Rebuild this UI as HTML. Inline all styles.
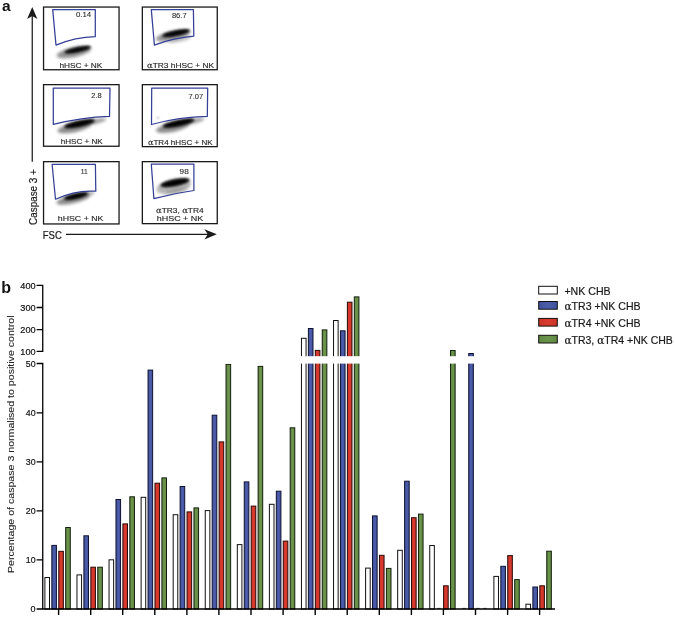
<!DOCTYPE html>
<html lang="en"><head><meta charset="utf-8"><title>Figure</title>
<style>
html,body{margin:0;padding:0;background:#fff;}
body{width:675px;height:617px;overflow:hidden;}
svg{display:block;}
text{font-family:"Liberation Sans",Arial,Helvetica,sans-serif;}
.al{font-family:"DejaVu Serif","Liberation Serif",serif;}
</style></head><body>
<svg width="675" height="617" viewBox="0 0 675 617">
<defs>
<filter id="b1" x="-50%" y="-200%" width="200%" height="500%"><feGaussianBlur stdDeviation="0.9"/></filter>
<filter id="b2" x="-50%" y="-200%" width="200%" height="500%"><feGaussianBlur stdDeviation="1.4"/></filter>
<linearGradient id="gb" x1="0" x2="1" y1="0" y2="0"><stop offset="0" stop-color="#41509e"/><stop offset="0.5" stop-color="#4c5da9"/><stop offset="1" stop-color="#41509e"/></linearGradient>
<linearGradient id="gr" x1="0" x2="1" y1="0" y2="0"><stop offset="0" stop-color="#c93429"/><stop offset="0.5" stop-color="#db3a2e"/><stop offset="1" stop-color="#c93429"/></linearGradient>
<linearGradient id="gg" x1="0" x2="1" y1="0" y2="0"><stop offset="0" stop-color="#608842"/><stop offset="0.5" stop-color="#6c954b"/><stop offset="1" stop-color="#608842"/></linearGradient>
</defs>
<rect width="675" height="617" fill="#fff"/>
<g id="panel-a">
<text x="2" y="11" font-size="15.5" font-weight="bold" fill="#111">a</text>
<line x1="32.25" y1="15" x2="32.25" y2="161.7" stroke="#1a1a1a" stroke-width="1.25"/>
<polygon points="32.25,7 37.4,19 32.25,16 27.1,19" fill="#1a1a1a"/>
<line x1="66" y1="234.3" x2="208.5" y2="234.3" stroke="#1a1a1a" stroke-width="1.2"/>
<polygon points="216.8,234.3 204.4,229.2 207.8,234.3 204.4,239.4" fill="#1a1a1a"/>
<text transform="translate(36.6,224.9) rotate(-90)" font-size="10" fill="#1a1a1a" stroke="#1a1a1a" stroke-width="0.2" textLength="55.8" lengthAdjust="spacingAndGlyphs">Caspase 3 +</text>
<text x="42.7" y="238.8" font-size="10.8" fill="#1a1a1a" stroke="#1a1a1a" stroke-width="0.2" textLength="19.1" lengthAdjust="spacingAndGlyphs">FSC</text>
<rect x="43.55" y="7.05" width="75.50" height="62.70" fill="#fff" stroke="#1a1a1a" stroke-width="1.3"/>
<g transform="translate(77.6,49.7) rotate(-12)"><ellipse cx="-4.2" cy="1.7" rx="17.5" ry="5" fill="#858585" opacity="0.9" filter="url(#b2)"/><ellipse cx="0" cy="0" rx="13.9" ry="2.7" fill="#2a2a2a" opacity="0.8" filter="url(#b1)"/><ellipse cx="0" cy="0" rx="12.3" ry="1.8" fill="#000" filter="url(#b1)"/></g>
<path d="M52.7,9.6 L95.3,9.6 L95.3,36.7 Q75.65,37.15 56,45.1 Z" fill="none" stroke="#343f96" stroke-width="1.25" stroke-linejoin="round"/>
<text x="75.89999999999999" y="17.4" font-size="6.8" fill="#333" stroke="#333" stroke-width="0.12" textLength="15.2" lengthAdjust="spacingAndGlyphs">0.14</text>
<text x="59.400000000000006" y="68" font-size="7.8" fill="#2a2a2a" stroke="#2a2a2a" stroke-width="0.15" textLength="42.9" lengthAdjust="spacingAndGlyphs">hHSC + NK</text>
<rect x="142.35" y="7.05" width="74.90" height="62.70" fill="#fff" stroke="#1a1a1a" stroke-width="1.3"/>
<g transform="translate(176.1,33.2) rotate(-11.5)"><ellipse cx="-3.5" cy="1.8" rx="17.5" ry="4.8" fill="#858585" opacity="0.9" filter="url(#b2)"/><ellipse cx="2" cy="7" rx="12" ry="2.0" fill="#999" opacity="0.6" filter="url(#b2)"/><ellipse cx="0" cy="0" rx="14.6" ry="2.9" fill="#2a2a2a" opacity="0.8" filter="url(#b1)"/><ellipse cx="0" cy="0" rx="13.0" ry="2.0" fill="#000" filter="url(#b1)"/></g>
<path d="M151.3,9.6 L193.4,9.6 L193.8,36.2 Q174.10,37.76 154.4,45.1 Z" fill="none" stroke="#343f96" stroke-width="1.25" stroke-linejoin="round"/>
<text x="171.9" y="17.7" font-size="6.8" fill="#333" stroke="#333" stroke-width="0.12" textLength="14.8" lengthAdjust="spacingAndGlyphs">86.7</text>
<text x="147.0" y="68" font-size="7.8" fill="#2a2a2a" stroke="#2a2a2a" stroke-width="0.15" textLength="67.2" lengthAdjust="spacingAndGlyphs"><tspan class="al">α</tspan>TR3 hHSC + NK</text>
<rect x="43.55" y="84.65" width="75.50" height="61.60" fill="#fff" stroke="#1a1a1a" stroke-width="1.3"/>
<g transform="translate(79.5,123.7) rotate(-12)"><ellipse cx="-6" cy="2.8" rx="17" ry="4.6" fill="#808080" opacity="0.9" filter="url(#b2)"/><ellipse cx="11" cy="1.2" rx="16" ry="2.6" fill="#858585" opacity="0.8" filter="url(#b2)"/><ellipse cx="0" cy="0" rx="16.1" ry="3.3" fill="#2a2a2a" opacity="0.8" filter="url(#b1)"/><ellipse cx="0" cy="0" rx="14.5" ry="2.4" fill="#000" filter="url(#b1)"/></g>
<path d="M53.3,88 L110,88 L109.5,116.4 Q81.40,117.37 53.3,124.4 Z" fill="#fff" fill-opacity="0.85" stroke="none"/>
<path d="M53.3,88 L110,88 L109.5,116.4 Q81.40,117.37 53.3,124.4 Z" fill="none" stroke="#343f96" stroke-width="1.25" stroke-linejoin="round"/>
<text x="91.3" y="98.4" font-size="6.8" fill="#333" stroke="#333" stroke-width="0.12" textLength="10.4" lengthAdjust="spacingAndGlyphs">2.8</text>
<text x="60.7" y="144.4" font-size="7.8" fill="#2a2a2a" stroke="#2a2a2a" stroke-width="0.15" textLength="42.0" lengthAdjust="spacingAndGlyphs">hHSC + NK</text>
<rect x="142.35" y="84.65" width="74.90" height="62.00" fill="#fff" stroke="#1a1a1a" stroke-width="1.3"/>
<g transform="translate(178.5,123.2) rotate(-12)"><ellipse cx="-6.5" cy="2.8" rx="17" ry="4.6" fill="#808080" opacity="0.9" filter="url(#b2)"/><ellipse cx="11" cy="1.2" rx="15" ry="2.6" fill="#858585" opacity="0.8" filter="url(#b2)"/><ellipse cx="0" cy="0" rx="16.6" ry="3.3" fill="#2a2a2a" opacity="0.8" filter="url(#b1)"/><ellipse cx="0" cy="0" rx="15.0" ry="2.4" fill="#000" filter="url(#b1)"/></g>
<path d="M151.7,88 L207.7,88 L207.3,116.4 Q179.40,116.80 151.5,124.5 Z" fill="#fff" fill-opacity="0.85" stroke="none"/>
<path d="M151.7,88 L207.7,88 L207.3,116.4 Q179.40,116.80 151.5,124.5 Z" fill="none" stroke="#343f96" stroke-width="1.25" stroke-linejoin="round"/>
<text x="188.6" y="98.8" font-size="6.8" fill="#333" stroke="#333" stroke-width="0.12" textLength="14.5" lengthAdjust="spacingAndGlyphs">7.07</text>
<text x="148.0" y="144.8" font-size="7.8" fill="#2a2a2a" stroke="#2a2a2a" stroke-width="0.15" textLength="64.6" lengthAdjust="spacingAndGlyphs"><tspan class="al">α</tspan>TR4 hHSC + NK</text>
<rect x="43.55" y="161.65" width="75.50" height="62.30" fill="#fff" stroke="#1a1a1a" stroke-width="1.3"/>
<g transform="translate(76,196.1) rotate(-13)"><ellipse cx="-3.5" cy="2.2" rx="17" ry="4.3" fill="#808080" opacity="0.9" filter="url(#b2)"/><ellipse cx="8" cy="0.8" rx="11" ry="2.4" fill="#858585" opacity="0.7" filter="url(#b2)"/><ellipse cx="0" cy="0" rx="12.9" ry="2.9" fill="#2a2a2a" opacity="0.8" filter="url(#b1)"/><ellipse cx="0" cy="0" rx="11.3" ry="2.0" fill="#000" filter="url(#b1)"/></g>
<path d="M52.1,164.3 L95.4,164.3 L95.8,191.2 Q75.65,189.82 55.5,199.2 Z" fill="#fff" fill-opacity="0.75" stroke="none"/>
<path d="M52.1,164.3 L95.4,164.3 L95.8,191.2 Q75.65,189.82 55.5,199.2 Z" fill="none" stroke="#343f96" stroke-width="1.25" stroke-linejoin="round"/>
<text x="80.69999999999999" y="173.9" font-size="6.8" fill="#333" stroke="#333" stroke-width="0.12" textLength="7.0" lengthAdjust="spacingAndGlyphs">11</text>
<text x="57.800000000000004" y="221.1" font-size="7.8" fill="#2a2a2a" stroke="#2a2a2a" stroke-width="0.15" textLength="45.6" lengthAdjust="spacingAndGlyphs">hHSC + NK</text>
<rect x="142.35" y="161.65" width="74.90" height="62.00" fill="#fff" stroke="#1a1a1a" stroke-width="1.3"/>
<g transform="translate(175,182.7) rotate(-11.3)"><ellipse cx="-2" cy="3.5" rx="17.5" ry="7.2" fill="#999" opacity="0.75" filter="url(#b2)"/><ellipse cx="0" cy="8" rx="12" ry="1.5" fill="#777" opacity="0.5" filter="url(#b2)"/><ellipse cx="0" cy="0" rx="15.1" ry="3.6" fill="#2a2a2a" opacity="0.8" filter="url(#b1)"/><ellipse cx="0" cy="0" rx="13.5" ry="2.7" fill="#000" filter="url(#b1)"/></g>
<path d="M151.3,164.2 L193.9,164.2 L193.9,190.5 Q173.90,193.20 153.9,198.7 Z" fill="none" stroke="#343f96" stroke-width="1.25" stroke-linejoin="round"/>
<text x="179.6" y="173.8" font-size="6.8" fill="#333" stroke="#333" stroke-width="0.12" textLength="9.1" lengthAdjust="spacingAndGlyphs">98</text>
<text x="156.0" y="213.1" font-size="7.8" fill="#2a2a2a" stroke="#2a2a2a" stroke-width="0.15" textLength="47.7" lengthAdjust="spacingAndGlyphs"><tspan class="al">α</tspan>TR3, <tspan class="al">α</tspan>TR4</text>
<text x="156.7" y="221.4" font-size="7.8" fill="#2a2a2a" stroke="#2a2a2a" stroke-width="0.15" textLength="46.6" lengthAdjust="spacingAndGlyphs">hHSC + NK</text>
<ellipse cx="157.9" cy="117.7" rx="1.3" ry="1" fill="#aaa" filter="url(#b1)" opacity="0.9"/>
</g>
<g id="panel-b">
<text x="1.2" y="292.6" font-size="16" font-weight="bold" fill="#111">b</text>
<rect x="44.90" y="577.50" width="4.60" height="31.50" fill="#fff" stroke="#111" stroke-width="1.0"/>
<rect x="51.83" y="545.40" width="4.60" height="63.60" fill="url(#gb)" stroke="#0e1230" stroke-width="1.0"/>
<rect x="58.76" y="551.30" width="4.60" height="57.70" fill="url(#gr)" stroke="#2a0a08" stroke-width="1.0"/>
<rect x="65.69" y="527.50" width="4.60" height="81.50" fill="url(#gg)" stroke="#13200e" stroke-width="1.0"/>
<rect x="76.97" y="574.90" width="4.60" height="34.10" fill="#fff" stroke="#111" stroke-width="1.0"/>
<rect x="83.90" y="535.80" width="4.60" height="73.20" fill="url(#gb)" stroke="#0e1230" stroke-width="1.0"/>
<rect x="90.83" y="567.20" width="4.60" height="41.80" fill="url(#gr)" stroke="#2a0a08" stroke-width="1.0"/>
<rect x="97.76" y="567.20" width="4.60" height="41.80" fill="url(#gg)" stroke="#13200e" stroke-width="1.0"/>
<rect x="109.04" y="559.80" width="4.60" height="49.20" fill="#fff" stroke="#111" stroke-width="1.0"/>
<rect x="115.97" y="499.50" width="4.60" height="109.50" fill="url(#gb)" stroke="#0e1230" stroke-width="1.0"/>
<rect x="122.90" y="523.90" width="4.60" height="85.10" fill="url(#gr)" stroke="#2a0a08" stroke-width="1.0"/>
<rect x="129.83" y="496.80" width="4.60" height="112.20" fill="url(#gg)" stroke="#13200e" stroke-width="1.0"/>
<rect x="141.11" y="497.30" width="4.60" height="111.70" fill="#fff" stroke="#111" stroke-width="1.0"/>
<rect x="148.04" y="370.10" width="4.60" height="238.90" fill="url(#gb)" stroke="#0e1230" stroke-width="1.0"/>
<rect x="154.97" y="483.20" width="4.60" height="125.80" fill="url(#gr)" stroke="#2a0a08" stroke-width="1.0"/>
<rect x="161.90" y="477.90" width="4.60" height="131.10" fill="url(#gg)" stroke="#13200e" stroke-width="1.0"/>
<rect x="173.18" y="514.70" width="4.60" height="94.30" fill="#fff" stroke="#111" stroke-width="1.0"/>
<rect x="180.11" y="486.50" width="4.60" height="122.50" fill="url(#gb)" stroke="#0e1230" stroke-width="1.0"/>
<rect x="187.04" y="511.90" width="4.60" height="97.10" fill="url(#gr)" stroke="#2a0a08" stroke-width="1.0"/>
<rect x="193.97" y="507.90" width="4.60" height="101.10" fill="url(#gg)" stroke="#13200e" stroke-width="1.0"/>
<rect x="205.25" y="510.60" width="4.60" height="98.40" fill="#fff" stroke="#111" stroke-width="1.0"/>
<rect x="212.18" y="415.20" width="4.60" height="193.80" fill="url(#gb)" stroke="#0e1230" stroke-width="1.0"/>
<rect x="219.11" y="441.90" width="4.60" height="167.10" fill="url(#gr)" stroke="#2a0a08" stroke-width="1.0"/>
<rect x="226.04" y="364.40" width="4.60" height="244.60" fill="url(#gg)" stroke="#13200e" stroke-width="1.0"/>
<rect x="237.32" y="544.60" width="4.60" height="64.40" fill="#fff" stroke="#111" stroke-width="1.0"/>
<rect x="244.25" y="481.90" width="4.60" height="127.10" fill="url(#gb)" stroke="#0e1230" stroke-width="1.0"/>
<rect x="251.18" y="506.10" width="4.60" height="102.90" fill="url(#gr)" stroke="#2a0a08" stroke-width="1.0"/>
<rect x="258.11" y="366.40" width="4.60" height="242.60" fill="url(#gg)" stroke="#13200e" stroke-width="1.0"/>
<rect x="269.39" y="504.30" width="4.60" height="104.70" fill="#fff" stroke="#111" stroke-width="1.0"/>
<rect x="276.32" y="491.20" width="4.60" height="117.80" fill="url(#gb)" stroke="#0e1230" stroke-width="1.0"/>
<rect x="283.25" y="541.10" width="4.60" height="67.90" fill="url(#gr)" stroke="#2a0a08" stroke-width="1.0"/>
<rect x="290.18" y="427.80" width="4.60" height="181.20" fill="url(#gg)" stroke="#13200e" stroke-width="1.0"/>
<rect x="301.46" y="338.30" width="4.60" height="270.70" fill="#fff" stroke="#111" stroke-width="1.0"/>
<rect x="308.39" y="328.50" width="4.60" height="280.50" fill="url(#gb)" stroke="#0e1230" stroke-width="1.0"/>
<rect x="315.32" y="350.40" width="4.60" height="258.60" fill="url(#gr)" stroke="#2a0a08" stroke-width="1.0"/>
<rect x="322.25" y="329.90" width="4.60" height="279.10" fill="url(#gg)" stroke="#13200e" stroke-width="1.0"/>
<rect x="333.53" y="320.50" width="4.60" height="288.50" fill="#fff" stroke="#111" stroke-width="1.0"/>
<rect x="340.46" y="330.80" width="4.60" height="278.20" fill="url(#gb)" stroke="#0e1230" stroke-width="1.0"/>
<rect x="347.39" y="302.20" width="4.60" height="306.80" fill="url(#gr)" stroke="#2a0a08" stroke-width="1.0"/>
<rect x="354.32" y="296.90" width="4.60" height="312.10" fill="url(#gg)" stroke="#13200e" stroke-width="1.0"/>
<rect x="365.60" y="568.10" width="4.60" height="40.90" fill="#fff" stroke="#111" stroke-width="1.0"/>
<rect x="372.53" y="515.90" width="4.60" height="93.10" fill="url(#gb)" stroke="#0e1230" stroke-width="1.0"/>
<rect x="379.46" y="555.30" width="4.60" height="53.70" fill="url(#gr)" stroke="#2a0a08" stroke-width="1.0"/>
<rect x="386.39" y="568.40" width="4.60" height="40.60" fill="url(#gg)" stroke="#13200e" stroke-width="1.0"/>
<rect x="397.67" y="550.30" width="4.60" height="58.70" fill="#fff" stroke="#111" stroke-width="1.0"/>
<rect x="404.60" y="481.20" width="4.60" height="127.80" fill="url(#gb)" stroke="#0e1230" stroke-width="1.0"/>
<rect x="411.53" y="517.70" width="4.60" height="91.30" fill="url(#gr)" stroke="#2a0a08" stroke-width="1.0"/>
<rect x="418.46" y="514.10" width="4.60" height="94.90" fill="url(#gg)" stroke="#13200e" stroke-width="1.0"/>
<rect x="429.74" y="545.50" width="4.60" height="63.50" fill="#fff" stroke="#111" stroke-width="1.0"/>
<rect x="437.17" y="607.9" width="3.60" height="0.8" fill="#333"/>
<rect x="443.60" y="585.80" width="4.60" height="23.20" fill="url(#gr)" stroke="#2a0a08" stroke-width="1.0"/>
<rect x="450.53" y="350.50" width="4.60" height="258.50" fill="url(#gg)" stroke="#13200e" stroke-width="1.0"/>
<rect x="462.31" y="607.9" width="3.60" height="0.8" fill="#333"/>
<rect x="468.74" y="353.50" width="4.60" height="255.50" fill="url(#gb)" stroke="#0e1230" stroke-width="1.0"/>
<rect x="476.17" y="607.9" width="3.60" height="0.8" fill="#333"/>
<rect x="483.10" y="607.9" width="3.60" height="0.8" fill="#333"/>
<rect x="493.88" y="576.40" width="4.60" height="32.60" fill="#fff" stroke="#111" stroke-width="1.0"/>
<rect x="500.81" y="566.30" width="4.60" height="42.70" fill="url(#gb)" stroke="#0e1230" stroke-width="1.0"/>
<rect x="507.74" y="555.60" width="4.60" height="53.40" fill="url(#gr)" stroke="#2a0a08" stroke-width="1.0"/>
<rect x="514.67" y="579.60" width="4.60" height="29.40" fill="url(#gg)" stroke="#13200e" stroke-width="1.0"/>
<rect x="525.95" y="604.20" width="4.60" height="4.80" fill="#fff" stroke="#111" stroke-width="1.0"/>
<rect x="532.88" y="587.00" width="4.60" height="22.00" fill="url(#gb)" stroke="#0e1230" stroke-width="1.0"/>
<rect x="539.81" y="585.80" width="4.60" height="23.20" fill="url(#gr)" stroke="#2a0a08" stroke-width="1.0"/>
<rect x="546.74" y="551.20" width="4.60" height="57.80" fill="url(#gg)" stroke="#13200e" stroke-width="1.0"/>
<rect x="44" y="356.2" width="520" height="7.4" fill="#fff"/>
<path d="M36.6,285.3 H42.75 V351.4 H36.6 M36.6,307.5 H42.75 M36.6,329.6 H42.75" fill="none" stroke="#000" stroke-width="1.3"/>
<path d="M36.6,363.5 H42.75 V609.0 M36.6,609.0 H555 M36.6,412.8 H42.75 M36.6,461.8 H42.75 M36.6,510.9 H42.75 M36.6,559.9 H42.75" fill="none" stroke="#000" stroke-width="1.3"/>
<path d="M58.6,609.0 v6 M90.7,609.0 v6 M122.7,609.0 v6 M154.8,609.0 v6 M186.9,609.0 v6 M218.9,609.0 v6 M251.0,609.0 v6 M283.1,609.0 v6 M315.2,609.0 v6 M347.2,609.0 v6 M379.3,609.0 v6 M411.4,609.0 v6 M443.4,609.0 v6 M475.5,609.0 v6 M507.6,609.0 v6 M539.6,609.0 v6 " stroke="#000" stroke-width="1.4" fill="none"/>
<text x="20.3" y="288.7" font-size="9.7" fill="#111" stroke="#111" stroke-width="0.2" textLength="15.3" lengthAdjust="spacingAndGlyphs">400</text>
<text x="20.3" y="310.9" font-size="9.7" fill="#111" stroke="#111" stroke-width="0.2" textLength="15.3" lengthAdjust="spacingAndGlyphs">300</text>
<text x="20.3" y="333.0" font-size="9.7" fill="#111" stroke="#111" stroke-width="0.2" textLength="15.3" lengthAdjust="spacingAndGlyphs">200</text>
<text x="20.3" y="354.8" font-size="9.7" fill="#111" stroke="#111" stroke-width="0.2" textLength="15.3" lengthAdjust="spacingAndGlyphs">100</text>
<text x="25.8" y="366.9" font-size="9.7" fill="#111" stroke="#111" stroke-width="0.2" textLength="9.8" lengthAdjust="spacingAndGlyphs">50</text>
<text x="25.8" y="416.2" font-size="9.7" fill="#111" stroke="#111" stroke-width="0.2" textLength="9.8" lengthAdjust="spacingAndGlyphs">40</text>
<text x="25.8" y="465.2" font-size="9.7" fill="#111" stroke="#111" stroke-width="0.2" textLength="9.8" lengthAdjust="spacingAndGlyphs">30</text>
<text x="25.8" y="514.3" font-size="9.7" fill="#111" stroke="#111" stroke-width="0.2" textLength="9.8" lengthAdjust="spacingAndGlyphs">20</text>
<text x="25.8" y="563.3" font-size="9.7" fill="#111" stroke="#111" stroke-width="0.2" textLength="9.8" lengthAdjust="spacingAndGlyphs">10</text>
<text x="30.6" y="612.4" font-size="9.7" fill="#111" stroke="#111" stroke-width="0.2" textLength="5.0" lengthAdjust="spacingAndGlyphs">0</text>
<text transform="translate(14.2,573) rotate(-90)" font-size="9.5" fill="#262626" stroke="#262626" stroke-width="0.1" textLength="257.6" lengthAdjust="spacingAndGlyphs">Percentage of caspase 3 normalised to positive control</text>
<rect x="538.7" y="286.30" width="18.6" height="7.7" fill="#fff" stroke="#111" stroke-width="1"/>
<text x="564.4" y="294.5" font-size="10.4" fill="#1a1a1a" stroke="#1a1a1a" stroke-width="0.2" textLength="46.2" lengthAdjust="spacingAndGlyphs">+NK CHB</text>
<rect x="538.7" y="301.50" width="18.6" height="7.7" fill="url(#gb)" stroke="#111" stroke-width="1"/>
<text x="564.4" y="309.7" font-size="10.4" fill="#1a1a1a" stroke="#1a1a1a" stroke-width="0.2" textLength="76.2" lengthAdjust="spacingAndGlyphs"><tspan class="al">α</tspan>TR3 +NK CHB</text>
<rect x="538.7" y="318.40" width="18.6" height="7.7" fill="url(#gr)" stroke="#111" stroke-width="1"/>
<text x="564.4" y="326.6" font-size="10.4" fill="#1a1a1a" stroke="#1a1a1a" stroke-width="0.2" textLength="76.2" lengthAdjust="spacingAndGlyphs"><tspan class="al">α</tspan>TR4 +NK CHB</text>
<rect x="538.7" y="335.30" width="18.6" height="7.7" fill="url(#gg)" stroke="#111" stroke-width="1"/>
<text x="564.4" y="343.5" font-size="10.4" fill="#1a1a1a" stroke="#1a1a1a" stroke-width="0.2" textLength="108.4" lengthAdjust="spacingAndGlyphs"><tspan class="al">α</tspan>TR3, <tspan class="al">α</tspan>TR4 +NK CHB</text>
</g>
</svg>
</body></html>
